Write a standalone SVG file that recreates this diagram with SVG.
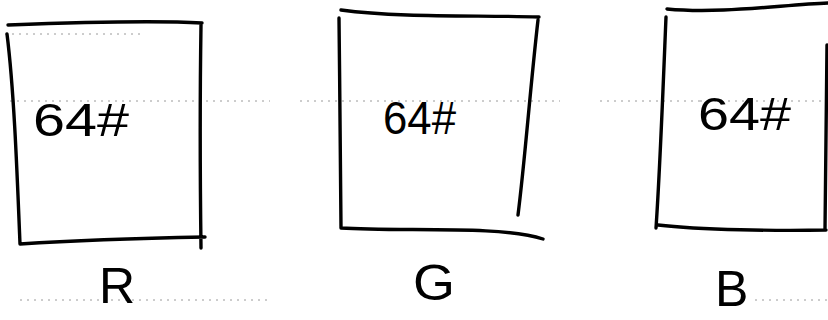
<svg xmlns="http://www.w3.org/2000/svg" width="828" height="320" viewBox="0 0 828 320">
<style>
.box{fill:none;stroke:#000;stroke-width:3.4;stroke-linecap:round;stroke-linejoin:round}
.rule{stroke:#9a9a9a;stroke-width:1;stroke-dasharray:2 5;fill:none}
.lbl{font-family:"Liberation Sans",Arial,sans-serif;fill:#000}
.num{font-size:46px}
.ch{font-size:50px}
</style>
<rect width="828" height="320" fill="#fff"/>
<g id="rules">
<path class="rule" d="M5 34 H145"/>
<path class="rule" d="M10 101 H270 M300 101 H560"/>
<path class="rule" d="M600 101 H700 M700 101 H828"/>
<path class="rule" d="M20 300 H270"/>
<path class="rule" d="M755 300 H828"/>
</g>
<g id="node-r">
<path class="box" d="M8 25 C60 23 150 20 202 23 M7 34 C14 90 17 170 20 244 C80 240 150 238 205 237 M201 25 C200 90 200 170 201 248"/>
<text class="lbl num" x="33" y="136" textLength="96" lengthAdjust="spacingAndGlyphs">64#</text>
<text class="lbl ch" x="99" y="303">R</text>
</g>
<g id="node-g">
<path class="box" d="M341 10 C400 18 480 15 539 17 M339 18 C340 90 340 170 341 228 C400 232 500 225 543 239 M538 20 C530 90 525 160 518 215"/>
<text class="lbl num" x="383" y="134" textLength="73" lengthAdjust="spacingAndGlyphs">64#</text>
<text class="lbl ch" x="413" y="300" textLength="42" lengthAdjust="spacingAndGlyphs">G</text>
</g>
<g id="node-b">
<path class="box" d="M667 9 C720 14 780 5 828 3 M666 17 C663 90 660 170 656 228 M658 225 C700 230 780 231 826 230 M827 45 L825 230"/>
<text class="lbl num" x="698" y="130" textLength="93" lengthAdjust="spacingAndGlyphs">64#</text>
<text class="lbl ch" x="715" y="306">B</text>
</g>
</svg>
